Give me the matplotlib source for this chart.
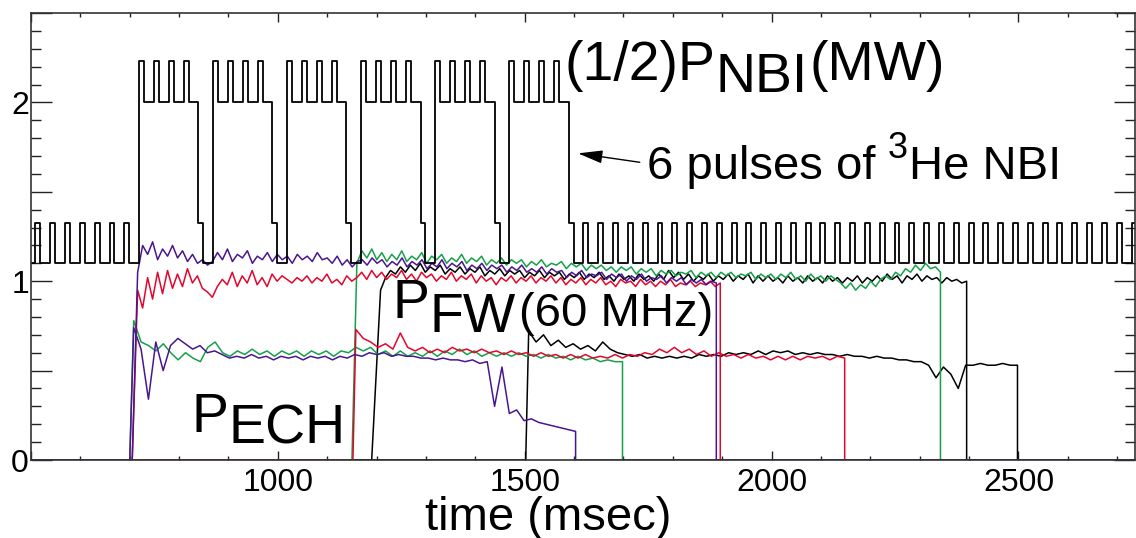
import matplotlib
matplotlib.use('Agg')
import matplotlib.pyplot as plt
import numpy as np
from matplotlib.ticker import FixedLocator, MultipleLocator, FixedFormatter

plt.rcParams['font.family'] = ['Liberation Sans', 'DejaVu Sans']

x_min, x_max = 500, 2736

# --- (1/2) P_NBI : 30 ms modulated beam + six 3He pulses (msec, MW) ---
mod_on = [509, 539, 569, 599, 629, 659, 689, 719, 749, 779, 809, 839, 869, 899,
          929, 959, 989, 1019, 1049, 1079, 1109, 1139, 1169, 1199, 1229, 1259,
          1289, 1319, 1349, 1379, 1409, 1439, 1469, 1499, 1529, 1559, 1589, 1619,
          1649, 1679, 1709, 1739, 1769, 1799, 1829, 1859, 1889, 1919, 1949, 1979,
          2009, 2039, 2069, 2099, 2129, 2159, 2189, 2219, 2249, 2279, 2309, 2339,
          2369, 2399, 2429, 2459, 2489, 2519, 2549, 2579, 2609, 2639, 2669, 2699,
          2729]
mod_width = 10
base_low, base_high = 1.10, 1.325
he3_on = [719, 869, 1019, 1169, 1319, 1469]
he3_off = [839, 989, 1139, 1289, 1439, 1589]
he3_power = 0.905

# --- P_FW (60 MHz), sampled every ~10 ms ---
fw_purple = [1.05, 1.20, 1.15, 1.22, 1.12, 1.18, 1.14, 1.20, 1.13,
             1.17, 1.11, 1.15, 1.10, 1.12, 1.09, 1.11, 1.16, 1.12, 1.18,
             1.11, 1.15, 1.13, 1.17, 1.10, 1.14, 1.12, 1.16, 1.11, 1.15,
             1.12, 1.14, 1.10, 1.15, 1.12, 1.14, 1.11, 1.16, 1.12, 1.13,
             1.10, 1.14, 1.09, 1.12, 1.08, 1.11, 1.12, 1.09, 1.13, 1.10,
             1.12, 1.08, 1.11, 1.09, 1.13, 1.08, 1.11, 1.09, 1.12, 1.07,
             1.10, 1.08, 1.12, 1.07, 1.10, 1.08, 1.11, 1.06, 1.09, 1.07,
             1.10, 1.06, 1.09, 1.07, 1.09, 1.05, 1.08, 1.06, 1.09, 1.05,
             1.07, 1.05, 1.08, 1.04, 1.07, 1.05, 1.06, 1.02, 1.05, 1.03,
             1.06, 1.02, 1.04, 1.03, 1.05, 1.01, 1.04, 1.02, 1.04, 1.00,
             1.03, 1.01, 1.04, 1.00, 1.02, 1.01, 1.03, 0.99, 1.02, 1.00,
             1.02, 0.98, 1.01, 0.99, 1.01, 0.98, 1.00, 0.99]
fw_red = [0.95, 0.85, 1.02, 0.90, 1.05, 0.93, 1.06, 0.96, 1.04,
          0.97, 1.07, 0.99, 1.03, 0.96, 0.94, 0.91, 0.97, 1.01, 0.98,
          1.05, 0.97, 1.03, 0.99, 1.06, 0.98, 1.02, 0.97, 1.04, 1.00,
          1.03, 1.01, 0.99, 1.02, 1.00, 1.03, 0.99, 1.02, 1.00, 1.04,
          0.99, 1.01, 0.98, 1.03, 1.00, 1.02, 1.05, 1.01, 1.06, 1.02,
          1.05, 1.01, 1.04, 1.02, 1.06, 1.01, 1.04, 1.00, 1.05, 1.02,
          1.04, 1.00, 1.03, 1.01, 1.05, 1.00, 1.03, 1.01, 1.04, 0.99,
          1.03, 1.00, 1.02, 0.98, 1.02, 1.00, 1.03, 0.99, 1.02, 1.00,
          1.03, 0.99, 1.02, 1.00, 1.03, 0.99, 1.02, 0.98, 1.01, 0.99,
          1.02, 0.98, 1.01, 0.99, 1.02, 0.98, 1.00, 0.97, 1.01, 0.99,
          1.00, 0.97, 1.01, 0.98, 1.00, 0.97, 1.00, 0.98, 1.01, 0.97,
          0.99, 0.98, 1.00, 0.97, 0.99, 0.98, 1.00, 0.97, 0.99]
fw_green = [1.10, 1.17, 1.13, 1.18, 1.12, 1.16, 1.11, 1.15, 1.12, 1.17,
            1.11, 1.14, 1.12, 1.16, 1.10, 1.14, 1.12, 1.15, 1.10, 1.13,
            1.11, 1.15, 1.10, 1.13, 1.11, 1.14, 1.09, 1.12, 1.10, 1.13,
            1.09, 1.12, 1.10, 1.12, 1.08, 1.11, 1.09, 1.12, 1.08, 1.10,
            1.09, 1.11, 1.07, 1.10, 1.08, 1.10, 1.06, 1.09, 1.07, 1.09,
            1.06, 1.08, 1.05, 1.08, 1.06, 1.08, 1.04, 1.07, 1.05, 1.07,
            1.03, 1.06, 1.04, 1.06, 1.03, 1.05, 1.04, 1.06, 1.02, 1.05,
            1.03, 1.05, 1.02, 1.05, 1.03, 1.05, 1.02, 1.04, 1.03, 1.05,
            1.01, 1.04, 1.02, 1.04, 1.01, 1.04, 1.02, 1.05, 1.01, 1.03,
            1.00, 1.04, 1.01, 1.03, 1.00, 1.03, 1.01, 0.99, 0.96, 0.99,
            0.95, 0.98, 0.96, 1.00, 0.97, 1.01, 1.03, 1.01, 1.05, 1.03,
            1.07, 1.05, 1.09, 1.06, 1.10, 1.07, 1.08, 1.05]
fw_black = [0.95, 1.02, 1.06, 1.04, 1.08, 1.05, 1.09, 1.06, 1.10,
            1.05, 1.08, 1.06, 1.09, 1.04, 1.07, 1.05, 1.08, 1.04, 1.07,
            1.05, 1.08, 1.03, 1.06, 1.04, 1.07, 1.03, 1.06, 1.04, 1.06,
            1.02, 1.05, 1.03, 1.06, 1.02, 1.05, 1.03, 1.05, 1.01, 1.04,
            1.02, 1.05, 1.01, 1.04, 1.02, 1.05, 1.01, 1.03, 1.00, 1.04,
            1.01, 1.03, 1.00, 1.04, 1.01, 1.03, 1.00, 1.04, 1.01, 1.06,
            1.02, 1.05, 1.01, 1.04, 1.00, 1.03, 1.01, 1.04, 1.00, 1.03,
            1.01, 1.04, 1.00, 1.03, 1.01, 1.04, 0.99, 1.03, 1.00, 1.03,
            1.00, 1.02, 0.99, 1.03, 1.00, 1.02, 0.99, 1.03, 1.00, 1.02,
            0.99, 1.03, 1.00, 1.02, 0.99, 1.02, 1.00, 1.03, 0.99, 1.02,
            1.00, 1.03, 1.00, 1.04, 1.01, 1.03, 0.99, 1.03, 1.01, 1.04,
            1.00, 1.03, 1.01, 1.02, 0.99, 1.02, 1.00, 1.01, 0.99, 1.00]

# --- P_ECH, sampled every ~15 ms ---
ech_purple = [0.74, 0.62, 0.34, 0.66, 0.50, 0.64, 0.68, 0.65, 0.62, 0.64,
              0.60, 0.61, 0.59, 0.57, 0.58, 0.57, 0.59, 0.57, 0.58, 0.56,
              0.58, 0.57, 0.58, 0.56, 0.58, 0.57, 0.58, 0.56, 0.58, 0.57,
              0.59, 0.58, 0.60, 0.59, 0.60, 0.58, 0.59, 0.58, 0.58, 0.57,
              0.57, 0.56, 0.57, 0.56, 0.56, 0.55, 0.56, 0.54, 0.55, 0.30,
              0.52, 0.26, 0.28, 0.22, 0.23, 0.21, 0.20, 0.19, 0.18, 0.17,
              0.16]
ech_green = [0.78, 0.66, 0.64, 0.61, 0.65, 0.60, 0.56, 0.60, 0.57, 0.55,
             0.63, 0.66, 0.60, 0.58, 0.61, 0.59, 0.62, 0.59, 0.61, 0.58,
             0.61, 0.59, 0.61, 0.58, 0.61, 0.59, 0.61, 0.58, 0.61, 0.60,
             0.63, 0.61, 0.63, 0.59, 0.61, 0.58, 0.61, 0.58, 0.60, 0.58,
             0.61, 0.58, 0.61, 0.59, 0.62, 0.59, 0.61, 0.58, 0.60, 0.58,
             0.60, 0.58, 0.60, 0.58, 0.59, 0.57, 0.59, 0.57, 0.58, 0.56,
             0.58, 0.56, 0.57, 0.55, 0.56, 0.55, 0.55]
ech_red = [0.73, 0.68, 0.66, 0.63, 0.65, 0.62, 0.71, 0.63, 0.61, 0.63,
           0.60, 0.62, 0.60, 0.63, 0.61, 0.62, 0.60, 0.62, 0.60, 0.61,
           0.59, 0.61, 0.59, 0.60, 0.58, 0.60, 0.58, 0.59, 0.57, 0.59,
           0.57, 0.59, 0.57, 0.58, 0.57, 0.59, 0.57, 0.59, 0.58, 0.60,
           0.59, 0.62, 0.60, 0.63, 0.60, 0.62, 0.59, 0.61, 0.58, 0.60,
           0.58, 0.59, 0.57, 0.59, 0.57, 0.58, 0.56, 0.58, 0.56, 0.58,
           0.56, 0.58, 0.57, 0.58, 0.56, 0.58, 0.57]
ech_black = [0.72, 0.66, 0.70, 0.64, 0.67, 0.63, 0.65, 0.62, 0.64, 0.61,
             0.66, 0.62, 0.60, 0.59, 0.58, 0.59, 0.57, 0.58, 0.57, 0.58,
             0.57, 0.58, 0.57, 0.59, 0.58, 0.59, 0.58, 0.60, 0.59, 0.60,
             0.59, 0.61, 0.59, 0.61, 0.60, 0.61, 0.59, 0.60, 0.59, 0.60,
             0.59, 0.59, 0.58, 0.59, 0.58, 0.58, 0.57, 0.58, 0.57, 0.57,
             0.56, 0.56, 0.55, 0.55, 0.53, 0.46, 0.52, 0.48, 0.40, 0.53,
             0.53, 0.54, 0.53, 0.53, 0.54, 0.53, 0.53]

# (time at 0, first sample, switch-off) for each trace, msec
fw_purple_t = (705, 716, 1888)
fw_red_t = (705, 716, 1896)
fw_green_t = (1150, 1160, 2342)
fw_black_t = (1190, 1208, 2395)
ech_purple_t = (700, 708, 1603)
ech_green_t = (700, 708, 1698)
ech_red_t = (1152, 1158, 2148)
ech_black_t = (1502, 1508, 2498)

RED = '#e3062c'
GREEN = '#17a04a'
PURPLE = '#4a1690'
BLACK = '#000000'


def trace(times, vals):
    t_zero, t_first, t_end = times
    t = np.linspace(t_first, t_end, len(vals))
    x = np.concatenate([[x_min, t_zero], t, [t_end, x_max]])
    y = np.concatenate([[0, 0], vals, [0, 0]])
    return x, y


def nbi_level(t):
    lev = base_low
    if any(a <= t < a + mod_width for a in mod_on):
        lev = base_high
    if any(a <= t < b for a, b in zip(he3_on, he3_off)):
        lev += he3_power
    return lev


fig = plt.figure(figsize=(11.36, 5.38), dpi=100)
ax = fig.add_axes([31 / 1136, 1 - 460 / 538, 1104 / 1136, 447 / 538])

lw = 1.1
for times, vals, c in [(ech_black_t, ech_black, BLACK), (fw_black_t, fw_black, BLACK),
                       (ech_green_t, ech_green, GREEN), (fw_green_t, fw_green, GREEN),
                       (ech_red_t, ech_red, RED), (fw_red_t, fw_red, RED),
                       (ech_purple_t, ech_purple, PURPLE), (fw_purple_t, fw_purple, PURPLE)]:
    x, y = trace(times, vals)
    ax.plot(x, y, color=c, lw=lw)

edges = sorted(set([x_min] + mod_on + [a + mod_width for a in mod_on] + he3_on + he3_off))
edges = [e for e in edges if e <= x_max] + [x_max]
levels = [nbi_level(e) for e in edges]
ax.plot(edges, levels, color='black', lw=1.3, drawstyle='steps-post')

ax.set_xlim(x_min, x_max)
ax.set_ylim(0, 2.5)

ax.xaxis.set_major_locator(FixedLocator([500, 1000, 1500, 2000, 2500]))
ax.xaxis.set_major_formatter(FixedFormatter(['', '1000', '1500', '2000', '2500']))
ax.xaxis.set_minor_locator(MultipleLocator(100))
ax.yaxis.set_major_locator(FixedLocator([0, 0.5, 1, 1.5, 2, 2.5]))
ax.yaxis.set_major_formatter(FixedFormatter(['0', '', '1', '', '2', '']))
ax.yaxis.set_minor_locator(MultipleLocator(0.1))

ax.tick_params(axis='both', which='both', direction='in', top=True, right=True,
               width=1.0, colors='#222222', labelcolor='black', labelsize=23)
ax.tick_params(axis='x', which='major', length=6.5, pad=6)
ax.tick_params(axis='x', which='minor', length=3)
ax.tick_params(axis='y', which='major', length=15, pad=1.5)
ax.tick_params(axis='y', which='minor', length=7.5)
for s in ax.spines.values():
    s.set_color('#333333')
    s.set_linewidth(1.2)

big, mid = 40, 34


def chain(prev, s, size, dx=0, dy=0):
    return ax.annotate(s, xy=(1, 0), xycoords=prev, xytext=(dx, dy),
                       textcoords='offset points', fontsize=size,
                       ha='left', va='bottom')


# (1/2)P_NBI(MW)
t = ax.text(1581, 2.123, '(1/2)P', fontsize=big, va='baseline')
t = chain(t, 'NBI', big, 0, -8)
chain(t, '(MW)', big, 1, 8)

# 6 pulses of 3He NBI
ax.annotate('', xy=(1608, 1.715), xytext=(1733, 1.665),
            arrowprops=dict(arrowstyle='-|>,head_length=0.6,head_width=0.16',
                            color='black', lw=1.0, mutation_scale=25,
                            shrinkA=0, shrinkB=0))
t = ax.text(1747, 1.57, '6 pulses of', fontsize=mid, va='baseline')
t3 = chain(t, '3', 26, 9, 16.8)
chain(t3, 'He NBI', mid, 1, -16.8)

# P_FW(60 MHz)
t = ax.text(1233, 0.793, 'P', fontsize=big, va='baseline')
t = chain(t, 'FW', big, 0, -10)
chain(t, '(60 MHz)', mid, 2, 6)

# P_ECH
t = ax.text(826, 0.156, 'P', fontsize=big, va='baseline')
chain(t, 'ECH', big, 0, -8)

fig.text(548 / 1136, 1 - 530 / 538, 'time (msec)', fontsize=mid,
         ha='center', va='baseline')

fig.savefig('out.png', dpi=100)
